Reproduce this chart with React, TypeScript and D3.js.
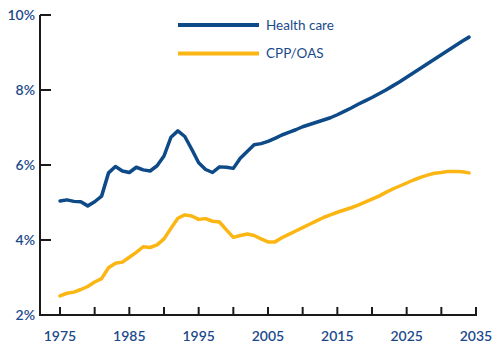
import React from 'react';
import * as d3 from 'd3';

const years = d3.range(1975, 2035);

const healthCare = [
  5.04, 5.07, 5.03, 5.02, 4.91, 5.02, 5.17, 5.79, 5.96, 5.84,
  5.80, 5.94, 5.87, 5.84, 5.98, 6.24, 6.74, 6.91, 6.76, 6.42,
  6.06, 5.88, 5.80, 5.95, 5.94, 5.91, 6.18, 6.36, 6.54, 6.57,
  6.63, 6.71, 6.80, 6.87, 6.94, 7.02, 7.08, 7.14, 7.20, 7.26,
  7.34, 7.43, 7.52, 7.62, 7.71, 7.80, 7.90, 8.00, 8.11, 8.22,
  8.34, 8.46, 8.58, 8.70, 8.82, 8.94, 9.06, 9.18, 9.30, 9.41,
];

const cppOas = [
  2.51, 2.58, 2.61, 2.68, 2.76, 2.88, 2.97, 3.26, 3.38, 3.41,
  3.54, 3.67, 3.82, 3.80, 3.87, 4.03, 4.31, 4.58, 4.67, 4.64,
  4.55, 4.57, 4.50, 4.48, 4.27, 4.07, 4.12, 4.16, 4.12, 4.03,
  3.95, 3.95, 4.06, 4.15, 4.24, 4.33, 4.42, 4.51, 4.60, 4.67,
  4.74, 4.80, 4.86, 4.93, 5.01, 5.09, 5.17, 5.27, 5.36, 5.44,
  5.52, 5.60, 5.67, 5.73, 5.78, 5.80, 5.83, 5.83, 5.82, 5.79,
];

const xTickLabels = [1975, 1985, 1995, 2005, 2015, 2025, 2035];
const yTickLabels = [2, 4, 6, 8, 10];

const series = [
  { name: 'Health care', values: healthCare, color: '#0d4a87' },
  { name: 'CPP/OAS', values: cppOas, color: '#fbb614' },
];

const labelColor = '#1b4a8a';
const font = 'Lato, "Open Sans", sans-serif';

const App = () => {
  const width = 500;
  const height = 350;
  const x = d3.scaleLinear().domain([1975, 2035]).range([60, 476]);
  const y = d3.scaleLinear().domain([2, 10]).range([315, 15]);

  const line = d3.line<number>()
    .x((_, i) => x(years[i]))
    .y(d => y(d));

  const minorTicks = d3.range(1975, 2036, 5);

  return (
    <svg width={width} height={height} style={{ position: 'absolute', left: 0, top: 0 }}>
      {/* axes */}
      <line x1={40} x2={40} y1={y(10)} y2={y(2) + 1} stroke="#1a1a1a" strokeWidth={2} />
      <line x1={39} x2={x(2035) + 1} y1={y(2)} y2={y(2)} stroke="#1a1a1a" strokeWidth={2} />
      {yTickLabels.map(t => (
        <g key={t}>
          <line x1={40} x2={51} y1={y(t)} y2={y(t)} stroke="#1a1a1a" strokeWidth={2} />
          <text x={35} y={y(t)} dy="0.35em" textAnchor="end" fill={labelColor}
            fontFamily={font} fontSize={14} fontWeight={600}>{t}%</text>
        </g>
      ))}
      {minorTicks.map(t => (
        <line key={t} x1={x(t)} x2={x(t)} y1={y(2)} y2={y(2) - 8} stroke="#1a1a1a" strokeWidth={2} />
      ))}
      {xTickLabels.map(t => (
        <text key={t} x={x(t)} y={341} textAnchor="middle" fill={labelColor}
          fontFamily={font} fontSize={14} fontWeight={600}>{t}</text>
      ))}

      {/* series */}
      {series.map(s => (
        <path key={s.name} d={line(s.values) || ''} fill="none" stroke={s.color}
          strokeWidth={3.5} strokeLinejoin="round" strokeLinecap="round" />
      ))}

      {/* legend */}
      {series.map((s, i) => (
        <g key={s.name} transform={`translate(178, ${25 + i * 28.5})`}>
          <line x1={0} x2={81} y1={0} y2={0} stroke={s.color} strokeWidth={4} />
          <text x={88} y={0} dy="0.35em" fill={labelColor} fontFamily={font} fontSize={13.5}>{s.name}</text>
        </g>
      ))}
    </svg>
  );
};

export default App;
